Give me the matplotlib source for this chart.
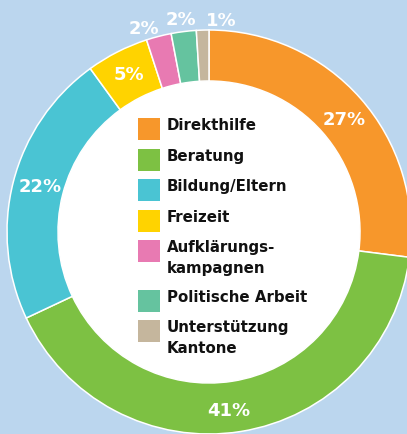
import numpy as np
import matplotlib
matplotlib.use("Agg")
import matplotlib.pyplot as plt
from matplotlib.patches import Circle, Rectangle

# ---- data ----
categories = ["Direkthilfe", "Beratung", "Bildung/Eltern", "Freizeit",
              "Aufklärungs-\nkampagnen", "Politische Arbeit", "Unterstützung\nKantone"]
values = [27, 41, 22, 5, 2, 2, 1]
pct_labels = ["27%", "41%", "22%", "5%", "2%", "2%", "1%"]
colors = ["#F7972B", "#7DC143", "#4AC4D3", "#FFD300", "#E87AB2", "#65C39F", "#C5B69D"]

# ---- styling ----
W, H = 407, 434
BG = "#BBD6EE"
cx, cy = 209, H - 232
R_OUT, R_IN = 202, 151
label_angle_shift = [-1.4, -2.6, -1.2, -0.4, 3.3, 0.2, -5.0]
label_radius = [177, 178, 175, 178, 215, 215, 213]

fig = plt.figure(figsize=(W / 100, H / 100), dpi=100, facecolor=BG)
ax = fig.add_axes([0, 0, 1, 1])
ax.set_facecolor(BG)

ax.add_patch(Circle((cx, cy), R_IN, facecolor="white", edgecolor="none", zorder=0))
wedges, _ = ax.pie(values, colors=colors, startangle=90, counterclock=False,
                   radius=R_OUT, center=(cx, cy), frame=True,
                   wedgeprops=dict(width=R_OUT - R_IN, edgecolor="white", linewidth=1.1))

# percentage labels
total = sum(values)
cum = np.cumsum([0] + values)
for i, lab in enumerate(pct_labels):
    mid = 90 - 360 * (cum[i] + values[i] / 2) / total + label_angle_shift[i]
    a = np.deg2rad(mid)
    x = cx + label_radius[i] * np.cos(a)
    y = cy + label_radius[i] * np.sin(a)
    ax.text(x, y - 6.7, lab, ha="center", va="baseline", color="white",
            fontsize=13, fontweight="bold", family="DejaVu Sans", zorder=5)

# legend
px, tx = 138, 167
top = 118
for i, (cat, col) in enumerate(zip(categories, colors)):
    lines = cat.split("\n")
    ax.add_patch(Rectangle((px, H - top - 22), 22, 22, facecolor=col,
                           edgecolor="none", zorder=4))
    for j, ln in enumerate(lines):
        ax.text(tx, H - (top + 12 + 21 * j), ln, ha="left", va="baseline",
                fontsize=10.8, fontweight="bold", family="DejaVu Sans",
                color="#111111", zorder=5)
    top += 30.5 + 19 * (len(lines) - 1)

ax.set_xlim(0, W)
ax.set_ylim(0, H)
ax.set_aspect("auto")
ax.axis("off")

fig.savefig("out.png", dpi=100, facecolor=BG)
